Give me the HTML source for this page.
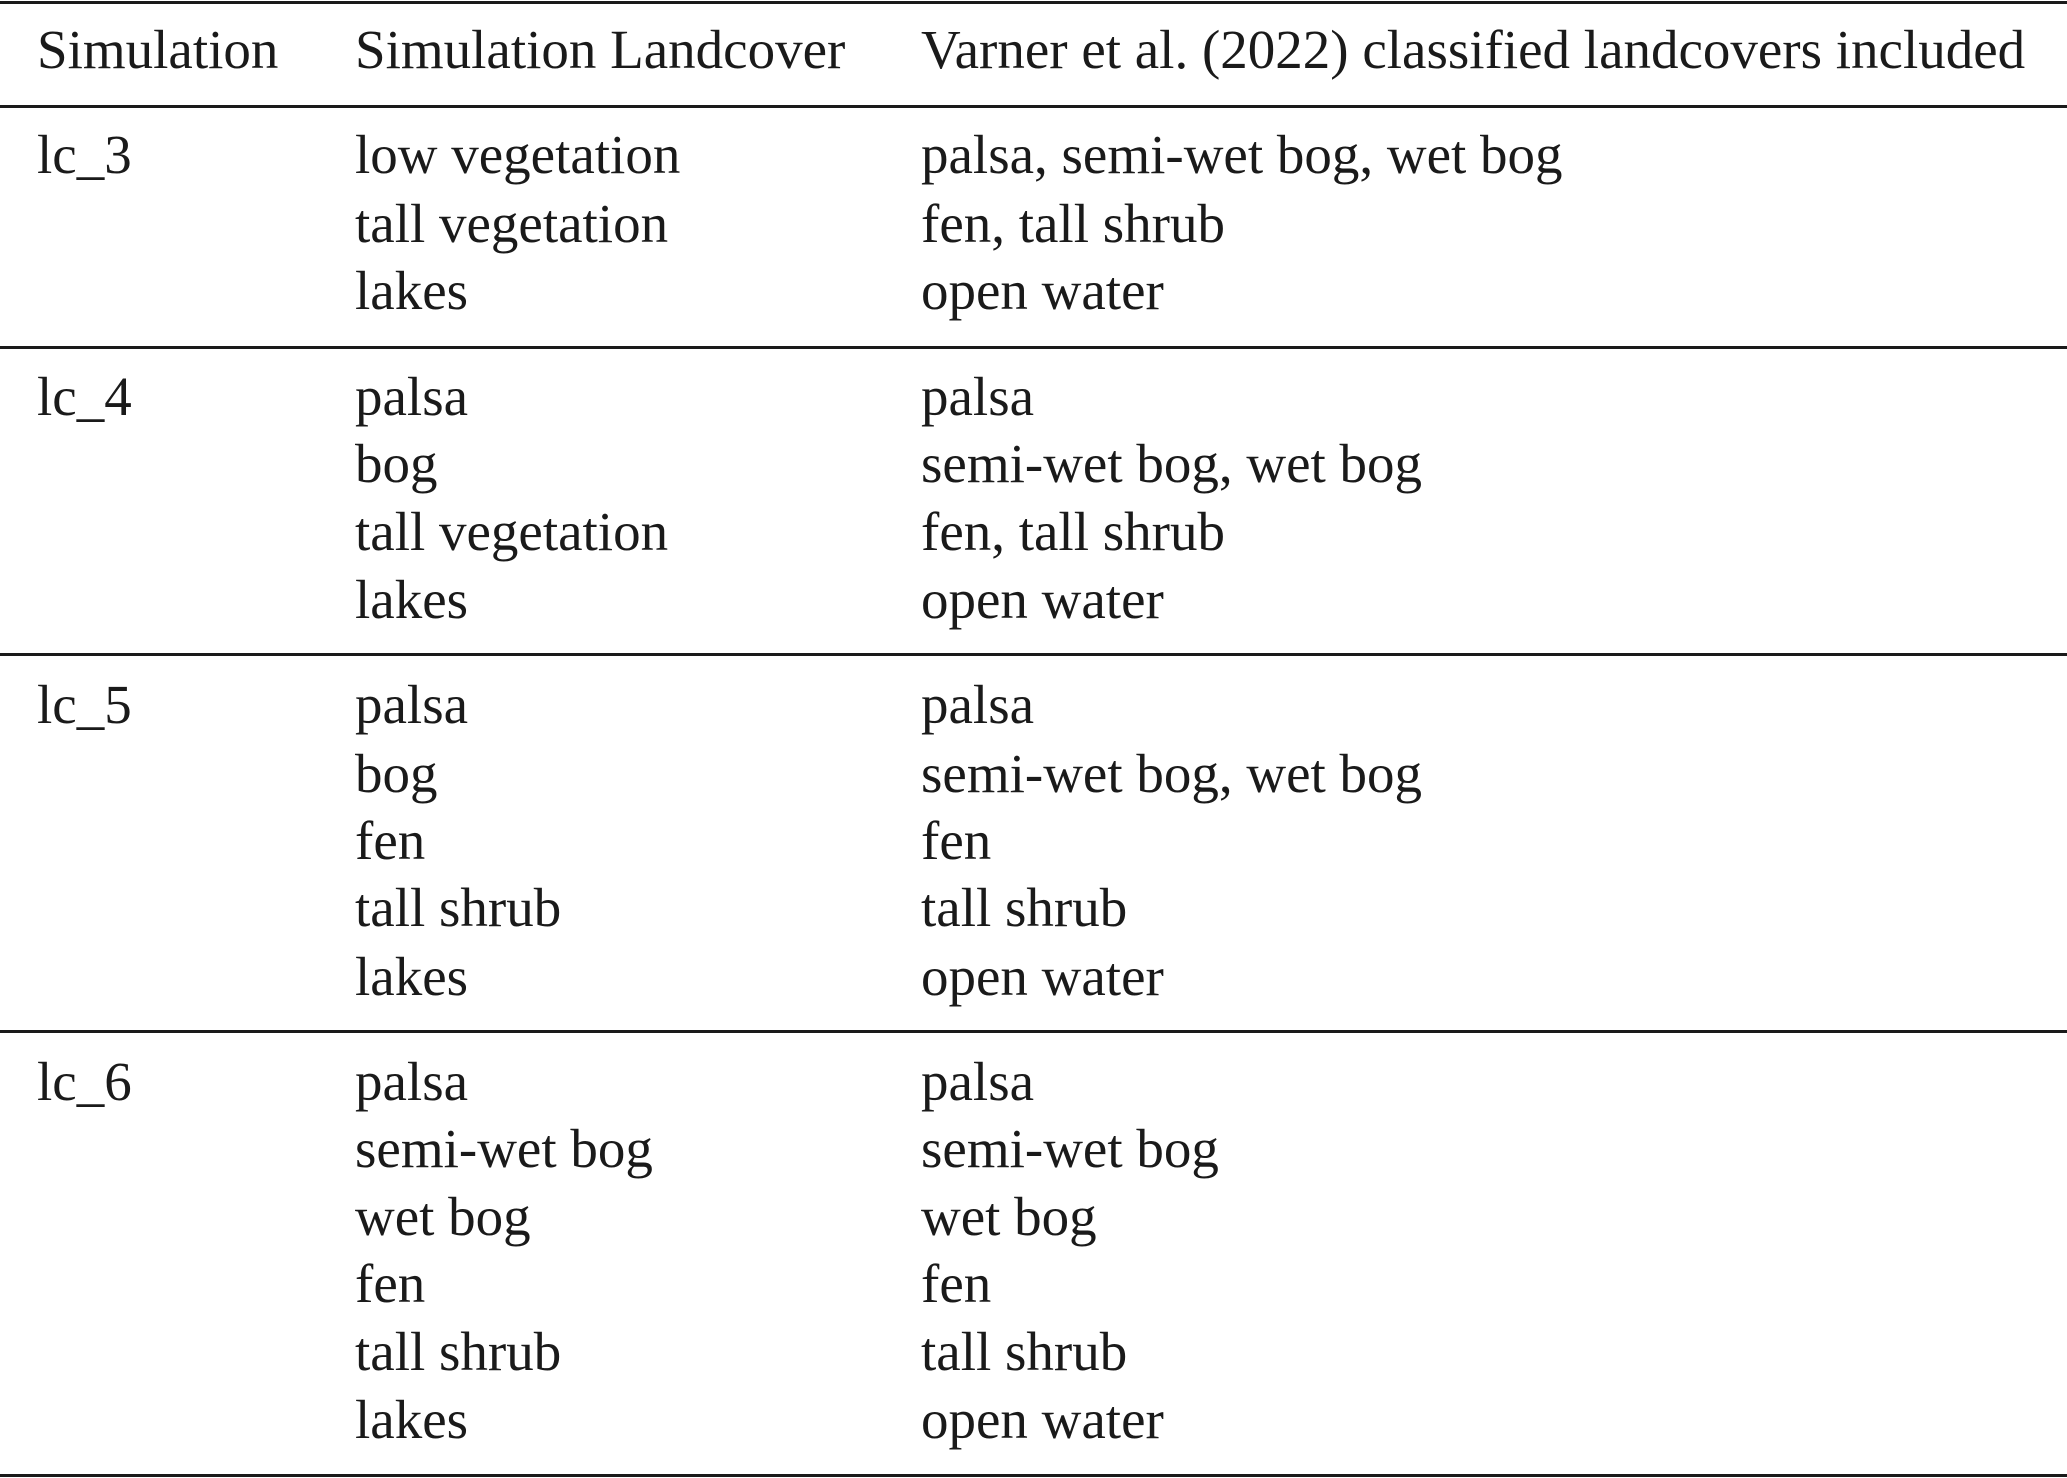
<!DOCTYPE html>
<html><head><meta charset="utf-8"><style>
body{margin:0;width:2067px;height:1478px;background:#fff;position:relative;overflow:hidden;font-family:"Liberation Serif",serif;font-size:55px;color:#1a1a1a}
.l{position:absolute;left:0;width:2067px;height:3px;background:#1a1a1a}
.t{position:absolute;line-height:68px;white-space:nowrap}
</style></head><body>
<div class="l" style="top:1px"></div>
<div class="l" style="top:105px"></div>
<div class="l" style="top:346px"></div>
<div class="l" style="top:653px"></div>
<div class="l" style="top:1030px"></div>
<div class="l" style="top:1474px"></div>

<div class="t" style="left:37px;top:16px">Simulation</div>
<div class="t" style="left:355px;top:16px">Simulation Landcover</div>
<div class="t" style="left:921px;top:16px">Varner et al. (2022) classified landcovers included</div>

<div class="t" style="left:37px;top:121px">lc_3</div>
<div class="t" style="left:355px;top:121px">low vegetation</div>
<div class="t" style="left:921px;top:121px">palsa, semi-wet bog, wet bog</div>
<div class="t" style="left:355px;top:190px">tall vegetation</div>
<div class="t" style="left:921px;top:190px">fen, tall shrub</div>
<div class="t" style="left:355px;top:257px">lakes</div>
<div class="t" style="left:921px;top:257px">open water</div>

<div class="t" style="left:37px;top:363px">lc_4</div>
<div class="t" style="left:355px;top:363px">palsa</div>
<div class="t" style="left:921px;top:363px">palsa</div>
<div class="t" style="left:355px;top:430px">bog</div>
<div class="t" style="left:921px;top:430px">semi-wet bog, wet bog</div>
<div class="t" style="left:355px;top:498px">tall vegetation</div>
<div class="t" style="left:921px;top:498px">fen, tall shrub</div>
<div class="t" style="left:355px;top:566px">lakes</div>
<div class="t" style="left:921px;top:566px">open water</div>

<div class="t" style="left:37px;top:671px">lc_5</div>
<div class="t" style="left:355px;top:671px">palsa</div>
<div class="t" style="left:921px;top:671px">palsa</div>
<div class="t" style="left:355px;top:740px">bog</div>
<div class="t" style="left:921px;top:740px">semi-wet bog, wet bog</div>
<div class="t" style="left:355px;top:807px">fen</div>
<div class="t" style="left:921px;top:807px">fen</div>
<div class="t" style="left:355px;top:874px">tall shrub</div>
<div class="t" style="left:921px;top:874px">tall shrub</div>
<div class="t" style="left:355px;top:943px">lakes</div>
<div class="t" style="left:921px;top:943px">open water</div>

<div class="t" style="left:37px;top:1048px">lc_6</div>
<div class="t" style="left:355px;top:1048px">palsa</div>
<div class="t" style="left:921px;top:1048px">palsa</div>
<div class="t" style="left:355px;top:1115px">semi-wet bog</div>
<div class="t" style="left:921px;top:1115px">semi-wet bog</div>
<div class="t" style="left:355px;top:1183px">wet bog</div>
<div class="t" style="left:921px;top:1183px">wet bog</div>
<div class="t" style="left:355px;top:1250px">fen</div>
<div class="t" style="left:921px;top:1250px">fen</div>
<div class="t" style="left:355px;top:1318px">tall shrub</div>
<div class="t" style="left:921px;top:1318px">tall shrub</div>
<div class="t" style="left:355px;top:1386px">lakes</div>
<div class="t" style="left:921px;top:1386px">open water</div>
</body></html>
